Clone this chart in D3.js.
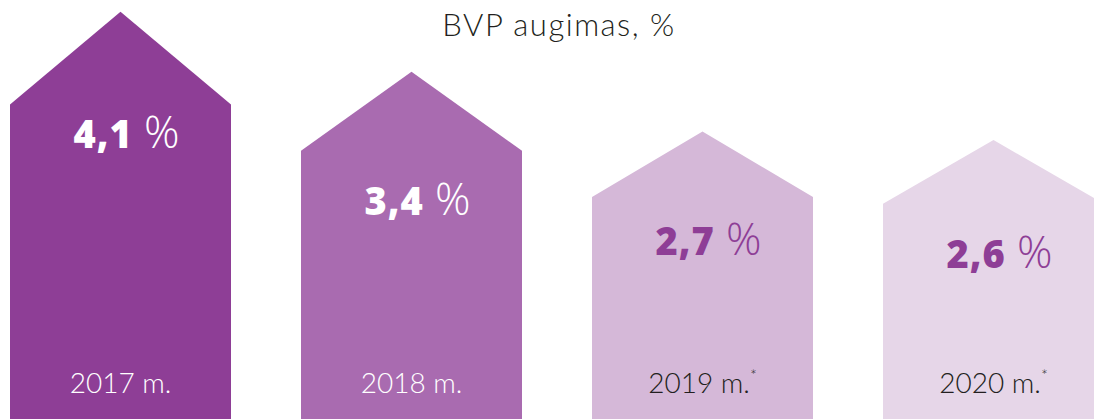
<!DOCTYPE html>
<html>
<head>
<meta charset="utf-8">
<script src="https://cdn.jsdelivr.net/npm/d3@7"></script>
<style>
  body { margin: 0; background: #fff; }
  svg { display: block; font-family: Lato, "Open Sans", sans-serif; }
</style>
</head>
<body>
<script>
// data
const years = ["2017 m.", "2018 m.", "2019 m.", "2020 m."];
const growth = [4.1, 3.4, 2.7, 2.6];
const forecast = [false, false, true, true];
const valueLabels = ["4,1", "3,4", "2,7", "2,6"];
const title = "BVP augimas, %";

const width = 1094, height = 419;
const colors = ["#8e3e96", "#a96bb0", "#d5b8d8", "#e6d6e8"];

const svg = d3.select("body").append("svg")
    .attr("width", width)
    .attr("height", height);

// band scale for the houses (last one runs off the right edge)
const x = d3.scaleBand()
    .domain(years)
    .range([10, 1104])
    .paddingInner(70 / 291)
    .paddingOuter(0);

// shoulder height of each house
const y = d3.scaleLinear().domain([0, 5]).range([375.5, 45]);

const roofRatio = 0.295;

function housePath(d, i) {
    const x0 = x(years[i]), x1 = x0 + x.bandwidth();
    const ys = y(d);
    const roof = (height - ys) * roofRatio;
    const cx = (x0 + x1) / 2;
    return "M" + x0 + "," + height +
        "L" + x0 + "," + ys +
        "L" + cx + "," + (ys - roof) +
        "L" + x1 + "," + ys +
        "L" + x1 + "," + height + "Z";
}

svg.selectAll("path.house")
    .data(growth)
    .enter().append("path")
    .attr("class", "house")
    .attr("d", housePath)
    .attr("fill", (d, i) => colors[i]);

// value labels
const vl = svg.selectAll("text.value")
    .data(growth)
    .enter().append("text")
    .attr("class", "value")
    .attr("x", (d, i) => x(years[i]) + x.bandwidth() / 2 + 6)
    .attr("y", (d, i) => y(d) + [43.5, 64, 58, 64][i])
    .attr("text-anchor", "middle")
    .attr("fill", (d, i) => i < 2 ? "#fff" : "#8e3e96")
    .style("font-family", "'Open Sans', sans-serif");
vl.append("tspan")
    .style("font-size", "38px")
    .style("font-weight", 800)
    .style("letter-spacing", "1px")
    .text((d, i) => valueLabels[i]);
vl.append("tspan")
    .style("font-size", "44px")
    .style("font-weight", 300)
    .text(" %");

// year labels
const yl = svg.selectAll("text.year")
    .data(years)
    .enter().append("text")
    .attr("class", "year")
    .attr("x", d => x(d) + x.bandwidth() / 2)
    .attr("y", 393)
    .attr("text-anchor", "middle")
    .attr("fill", (d, i) => i < 2 ? "#fff" : "#231f20")
    .style("font-size", "28px")
    .style("font-weight", 300);
yl.append("tspan").text(d => d);
yl.filter((d, i) => forecast[i]).append("tspan")
    .attr("dy", -12)
    .style("font-size", "16px")
    .text("*");

// title
svg.append("text")
    .attr("x", 559)
    .attr("y", 36)
    .attr("text-anchor", "middle")
    .attr("fill", "#231f20")
    .style("font-size", "31px")
    .style("font-weight", 300)
    .style("letter-spacing", "1.5px")
    .text(title);
</script>
</body>
</html>
